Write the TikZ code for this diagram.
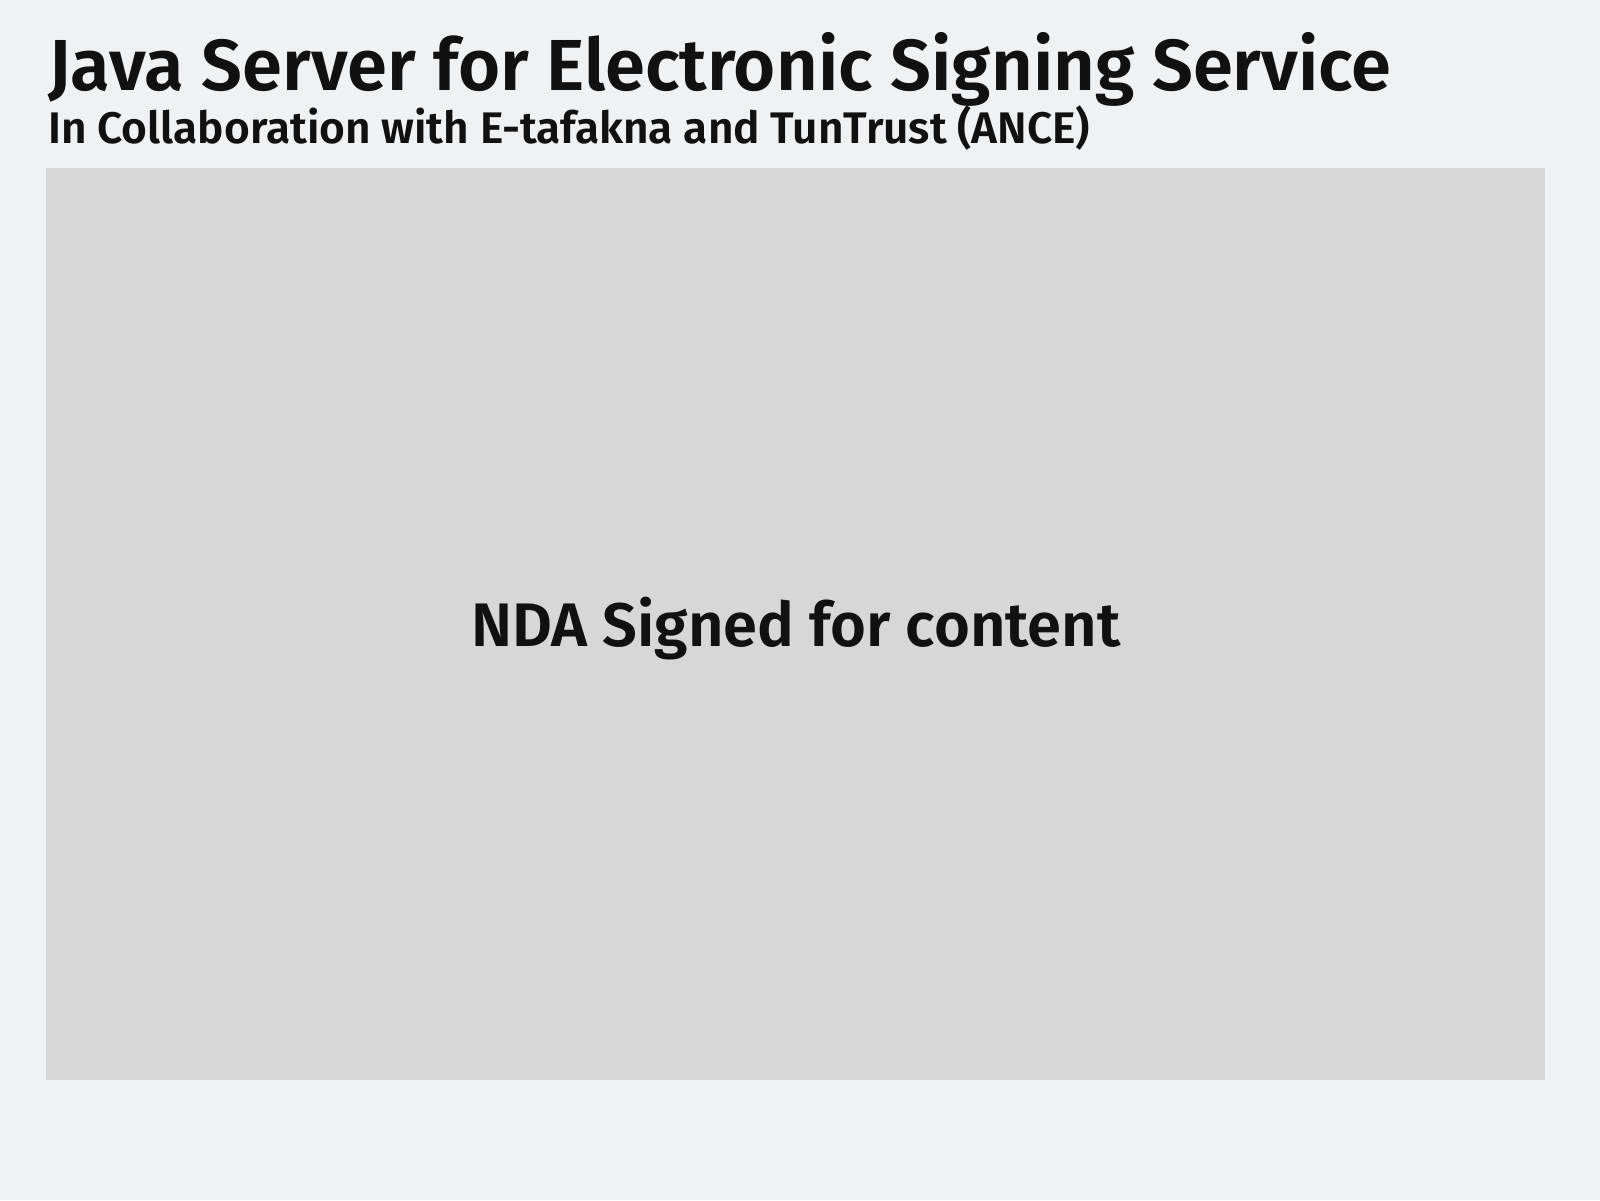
\documentclass[tikz,border=0pt]{standalone}
\usepackage{fontspec}
\setmainfont{Fira Sans}[BoldFont={Fira Sans SemiBold}]
\definecolor{bgc}{HTML}{F0F1F3}
\definecolor{boxc}{HTML}{D7D7D7}
\definecolor{txtc}{HTML}{111111}
\begin{document}
\begin{tikzpicture}[x=1pt,y=-1pt,
  txt/.style={inner sep=0pt,text=txtc,font=\bfseries}]
\fill[bgc] (0,0) rectangle (1600,1200);
\useasboundingbox (0,0) rectangle (1600,1200);
\node[txt,anchor=base west,font=\fontsize{72.3}{80}\selectfont\bfseries] (title) at (48,90) {Java Server for Electronic Signing Service};
\node[txt,anchor=base west,font=\fontsize{44.2}{50}\selectfont\bfseries] (sub) at (48,143) {In Collaboration with E-tafakna and TunTrust (ANCE)};
\node[fill=boxc,minimum width=1499pt,minimum height=912pt,anchor=north west,inner sep=0pt] (box) at (46,168) {};
\node[txt,anchor=base,font=\fontsize{61.5}{68}\selectfont\bfseries] (nda) at (796,646) {NDA Signed for content};
\end{tikzpicture}
\end{document}
